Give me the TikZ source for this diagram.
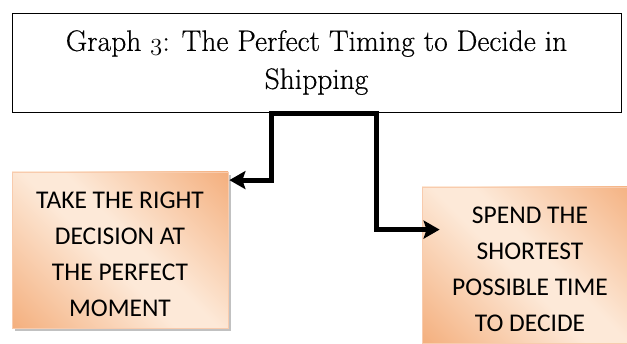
\documentclass[tikz,border=0pt]{standalone}
\usepackage{fontspec}
\newfontfamily\boxfont{Carlito}
\newfontfamily\titlefont{Latin Modern Roman}[FakeBold=0.5]
\usetikzlibrary{arrows.meta,shadows,calc}
\definecolor{peachdark}{HTML}{F4B07F}
\definecolor{peachlight}{HTML}{FDE9D8}
\definecolor{peachedge}{HTML}{F8CBAD}
% soft band: light along one diagonal, orange towards the other two corners
\pgfdeclareverticalshading{peachband}{100bp}{color(0bp)=(peachdark); color(15bp)=(peachdark);
  color(46bp)=(peachlight); color(54bp)=(peachlight); color(85bp)=(peachdark); color(100bp)=(peachdark)}
% raises the first line's top so the capitals sit a little low in the box
\newcommand{\droptext}{\rule{0pt}{25pt}}
\newcommand{\osthree}{{\usefont{OML}{cmm}{m}{it}3}}
\begin{document}
\begin{tikzpicture}[x=1pt,y=-1pt,
  titlebox/.style={draw=black, line width=0.9pt, fill=white, inner sep=0pt,
    minimum width=609pt, minimum height=99pt, align=center,
    font=\titlefont\fontsize{29.5}{38}\selectfont},
  optbox/.style={draw=peachedge, line width=0.8pt, inner sep=0pt,
    shading=peachband, shading angle=-45,
    drop shadow={shadow xshift=3pt, shadow yshift=-3pt, fill=black!30, opacity=0.8},
    minimum width=216pt, minimum height=156pt, align=center,
    font=\boxfont\fontsize{25.5}{36.2}\selectfont},
  conn/.style={line width=5pt, line join=miter,
    {Stealth[length=16pt,width=18pt,inset=3pt]}-{Stealth[length=16pt,width=18pt,inset=3pt]}}
]
\useasboundingbox (0,0) rectangle (627,344);

\node[titlebox] (title) at (316.5,62.5)
  {Graph \osthree: The Perfect Timing to Decide in\\Shipping};

\node[optbox] (take) at (120,250)
  {\droptext TAKE THE RIGHT\\DECISION AT\\THE PERFECT\\MOMENT};

\node[optbox] (spend) at (530,265)
  {\droptext SPEND THE\\SHORTEST\\POSSIBLE TIME\\TO DECIDE};

% elbow connector leaving the title box towards both outcomes
\coordinate (ltip) at ($(take.north east)+(1,8.5)$);
\coordinate (rtip) at ($(spend.north west)+(18,43)$);
\coordinate (tl) at ($(title.south west)+(259.5,1)$);
\coordinate (tr) at ($(title.south west)+(364.5,1)$);
\draw[conn] (ltip) -| (tl) -- (tr) |- (rtip);
\end{tikzpicture}
\end{document}
